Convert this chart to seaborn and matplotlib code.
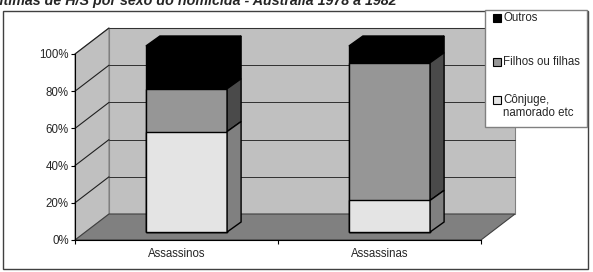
import numpy as np
import pandas as pd
import seaborn as sns
import matplotlib.pyplot as plt
from matplotlib.patches import Polygon, Rectangle

# ---------------- data ----------------
categories = ["Assassinos", "Assassinas"]
conjuge = [54, 17]
filhos = [23, 74]
outros = [23, 9]
legend_labels = ["Outros", "Filhos ou filhas", "Cônjuge,", "namorado etc"]
y_ticks = [0, 20, 40, 60, 80, 100]
y_tick_labels = ["0%", "20%", "40%", "60%", "80%", "100%"]
title = "Vítimas de H/S por sexo do homicida - Austrália 1978 a 1982"

# ---------------- styling ----------------
W, H = 593, 272
sns.set_style("white")
plt.rcParams['font.family'] = ['Liberation Sans', 'DejaVu Sans']
FS = 8.3

col_conj, col_filhos, col_outros = "#e4e4e4", "#969696", "#000000"
side_conj, side_filhos, side_outros = "#808080", "#4a4a4a", "#000000"

fig = plt.figure(figsize=(W / 100, H / 100), dpi=100)
ax = fig.add_axes([75 / W, 32 / H, 406 / W, 186 / H])
ax.set_facecolor("none")

df = pd.DataFrame({
    "cat": categories,
    "c1": conjuge,
    "c2": np.add(conjuge, filhos),
    "c3": np.add(np.add(conjuge, filhos), outros),
})

layers = []
for col, colour in [("c3", col_outros), ("c2", col_filhos), ("c1", col_conj)]:
    n0 = len(ax.patches)
    sns.barplot(data=df, x="cat", y=col, order=categories, color=colour,
                saturation=1, width=0.4, edgecolor="black", linewidth=1,
                ax=ax, zorder=3)
    layers.append(ax.patches[n0:])

ax.set_xlim(-0.5, 1.5)
ax.set_ylim(0, 100)

# pixel -> data conversions
sx = 2.0 / 406
sy = 100.0 / 186
Dx, Dy = 34 * sx, 26 * sy          # full depth
bx, by = 10 * sx, 8 * sy           # bar front offset
dbx, dby = 14 * sx, 10 * sy        # bar depth

for layer in layers:
    for p in layer:
        p.set_x(p.get_x() + bx)
        p.set_y(p.get_y() + by)
        p.set_clip_on(False)

# walls and floor
x0, x1 = -0.5, 1.5
wall = "#c0c0c0"
ax.add_patch(Rectangle((x0 + Dx, Dy), x1 - x0, 100, facecolor=wall,
                       edgecolor="#808080", lw=0.8, zorder=0.5, clip_on=False))
ax.add_patch(Polygon([(x0, 0), (x0 + Dx, Dy), (x0 + Dx, 100 + Dy), (x0, 100)],
                     facecolor=wall, edgecolor="#808080", lw=0.8, zorder=0.5,
                     clip_on=False))
ax.add_patch(Polygon([(x0, 0), (x1, 0), (x1 + Dx, Dy), (x0 + Dx, Dy)],
                     facecolor="#808080", edgecolor="#404040", lw=0.8,
                     zorder=0.6, clip_on=False))
for t in y_ticks[1:]:
    ax.plot([x0 + Dx, x1 + Dx], [t + Dy, t + Dy], color="#303030", lw=0.7,
            zorder=0.7, clip_on=False)
    ax.plot([x0, x0 + Dx], [t, t + Dy], color="#202020", lw=0.8,
            zorder=0.7, clip_on=False)

# 3D faces of the bars
seg_sides = [side_outros, side_filhos, side_conj]
bottoms = [layers[1], layers[2], None]
for li, layer in enumerate(layers):
    for i, p in enumerate(layer):
        xr = p.get_x() + p.get_width()
        xl = p.get_x()
        ytop = p.get_y() + p.get_height()
        ybot = p.get_y() if bottoms[li] is None else \
            bottoms[li][i].get_y() + bottoms[li][i].get_height()
        ax.add_patch(Polygon([(xr, ybot), (xr + dbx, ybot + dby),
                              (xr + dbx, ytop + dby), (xr, ytop)],
                             facecolor=seg_sides[li], edgecolor="black", lw=1,
                             zorder=3.5, clip_on=False))
        if li == 0:
            ax.add_patch(Polygon([(xl, ytop), (xr, ytop),
                                  (xr + dbx, ytop + dby), (xl + dbx, ytop + dby)],
                                 facecolor=col_outros, edgecolor="black", lw=1,
                                 zorder=3.5, clip_on=False))

# axes
for s in ["top", "right"]:
    ax.spines[s].set_visible(False)
for s in ["left", "bottom"]:
    ax.spines[s].set_color("black")
    ax.spines[s].set_linewidth(0.8)
    ax.spines[s].set_zorder(1)
ax.set_xlabel("")
ax.set_ylabel("")
ax.set_yticks(y_ticks, y_tick_labels)
ax.set_xticks([0, 1], categories)
ax.set_xticks([-0.5, 0.5, 1.5], minor=True)
ax.tick_params(axis="y", left=True, direction="out", length=3, width=0.8,
               pad=1.5, labelsize=FS, color="black")
ax.tick_params(axis="x", which="major", bottom=True, length=0, pad=6,
               labelsize=FS)
ax.tick_params(axis="x", which="minor", bottom=True, direction="out",
               length=3, width=0.8, color="black")

# outer frame
fig.add_artist(Rectangle((3 / W, 3 / H), 585 / W, 258 / H,
                         transform=fig.transFigure, fill=False,
                         edgecolor="#404040", lw=1, zorder=5))

# legend (manual)
fig.add_artist(Rectangle((485 / W, (H - 127) / H), 102 / W, 117 / H,
                         transform=fig.transFigure, facecolor="white",
                         edgecolor="#808080", lw=1, zorder=6))
leg_cols = [col_outros, col_filhos, col_conj]
leg_y = [18, 62, 100]
for c, yy, lab in zip(leg_cols, leg_y, legend_labels[:3]):
    fig.add_artist(Rectangle((493 / W, (H - yy - 4) / H), 8 / W, 8 / H,
                             transform=fig.transFigure, facecolor=c,
                             edgecolor="black", lw=0.8, zorder=7))
    fig.text(503 / W, (H - yy) / H, lab, fontsize=FS, va="center", ha="left",
             zorder=7)
fig.text(503 / W, (H - 113) / H, legend_labels[3], fontsize=FS, va="center",
         ha="left", zorder=7)

# title (cut off at the top, as in the source image)
fig.text(-10 / W, (H - 5) / H, title, fontsize=10.3, fontweight="bold",
         style="italic", va="baseline", ha="left")

fig.savefig("out.png", dpi=100)
